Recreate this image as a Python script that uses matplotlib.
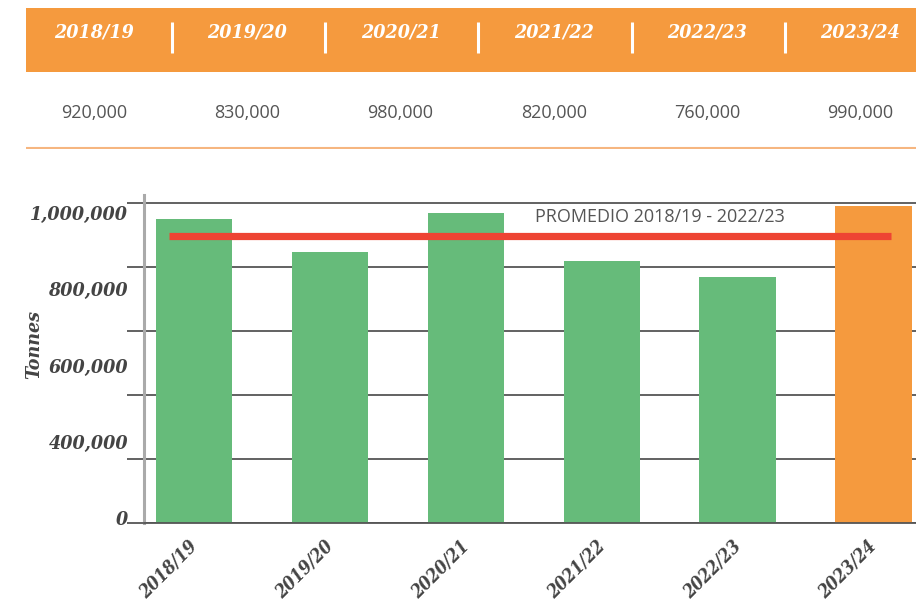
import matplotlib
matplotlib.use("Agg")
import matplotlib.pyplot as plt

# ---- data ----
seasons = ["2018/19", "2019/20", "2020/21", "2021/22", "2022/23", "2023/24"]
table_values = [920000, 830000, 980000, 820000, 760000, 990000]
bar_values = [950000, 847000, 969000, 819000, 770000, 990000]
average_value = 898000
average_label = "PROMEDIO 2018/19 - 2022/23"
grid_ticks = [0, 200000, 400000, 600000, 800000, 1000000]
y_tick_labels = ["0", "400,000", "600,000", "800,000", "1,000,000"]
y_label = "Tonnes"

# ---- styles ----
GREEN = "#66BB7A"
ORANGE = "#F59A3E"
RED = "#EE4433"
GRID = "#555555"
TXT = "#444444"
W, H = 916, 603
SERIF = dict(family="DejaVu Serif", weight="bold", style="italic", stretch="condensed")

fig = plt.figure(figsize=(W / 100, H / 100), dpi=100)

# ---- header table ----
tab = fig.add_axes([26 / W, (H - 149) / H, (W - 26) / W, 141 / H])
tab.set_xlim(-0.4436, 5.362)
tab.set_ylim(0, 1)
tab.axis("off")
tab.axhspan(0.546, 1.0, color=ORANGE, lw=0)
for i, s in enumerate(seasons):
    tab.text(i, 0.823, s, ha="center", va="center", color="white",
             fontsize=14, **SERIF)
    tab.text(i, 0.255, f"{table_values[i]:,}", ha="center", va="center",
             color="#555555", family="Open Sans", fontsize=13)
    if i < len(seasons) - 1:
        tab.plot([i + 0.508, i + 0.508], [0.679, 0.903], color="white", lw=2.2,
                 solid_capstyle="butt")
tab.axhline(0.01, color="#F6B680", lw=1.5)

# ---- main chart ----
ax = fig.add_axes([144 / W, (H - 523) / H, (W - 144) / W, 328 / H])
x = list(range(len(seasons)))
colors = [GREEN] * (len(seasons) - 1) + [ORANGE]
ax.bar(x, bar_values, width=0.565, color=colors, zorder=2)
ax.plot([-0.186, 5.123], [average_value, average_value], color=RED, lw=5.2,
        solid_capstyle="butt", zorder=3)
ax.text(2.507, 956000, average_label, ha="left", va="center", color="#555555",
        family="Open Sans", fontsize=13, zorder=4)

ax.set_xlim(-0.368, 5.31)
ax.set_ylim(0, 1025000)
ax.set_yticks(grid_ticks)
ax.set_yticklabels([""] * len(grid_ticks))
ax.yaxis.grid(True, color=GRID, lw=1.3)
ax.set_axisbelow(True)
ax.tick_params(axis="y", length=12.2, width=1.3, color=GRID)
for sp in ["top", "right"]:
    ax.spines[sp].set_visible(False)
ax.spines["left"].set_color("#AAAAAA")
ax.spines["left"].set_linewidth(2.2)
ax.spines["bottom"].set_color(GRID)
ax.spines["bottom"].set_linewidth(1.3)

ax.set_xticks(x)
ax.set_xticklabels(seasons, rotation=45, ha="right", va="center",
                   rotation_mode="anchor", fontsize=13, color=TXT, **SERIF)
ax.tick_params(axis="x", length=0, pad=15)

# y tick labels (evenly spaced, independent of gridlines as in the reference)
lab = fig.add_axes(ax.get_position().bounds, frameon=False)
lab.set_xticks([])
lab.set_ylim(-0.0656, 4.236)
lab.set_yticks(range(len(y_tick_labels)))
lab.set_yticklabels(y_tick_labels, fontsize=14, color=TXT, **SERIF)
lab.tick_params(axis="y", length=0, pad=11.5)
lab.set_ylabel(y_label, fontsize=14, color=TXT, **SERIF)
lab.yaxis.set_label_coords(-0.131, 0.543)
lab.patch.set_visible(False)

fig.savefig("out.png", dpi=100)
